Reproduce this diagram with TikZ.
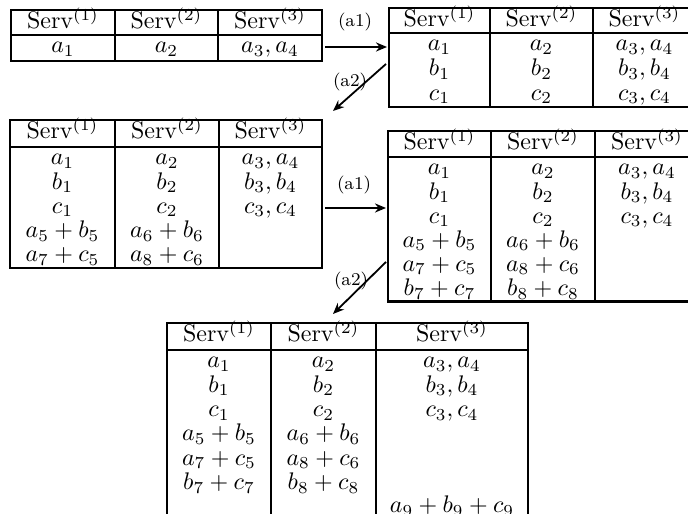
\documentclass[tikz,border=0pt]{standalone}
\usetikzlibrary{arrows.meta}
\begin{document}
\begin{tikzpicture}[x=0.4167pt,y=-0.4167pt,
  rule/.style={line width=1.05pt},
  cell/.style={anchor=base,inner sep=0pt},
  lab/.style={font=\fontsize{7.5}{9}\selectfont,inner sep=0pt},
  arr/.style={-{Stealth[length=4.6pt,width=3.8pt]},line width=0.75pt}]
\useasboundingbox (0,0) rectangle (688,514);
\clip (0,0) rectangle (688,514);

% ---------- Table 1 ----------
\coordinate (t1nw) at (11,10); \coordinate (t1se) at (322,61);
\draw[rule] (t1nw) rectangle (t1se);
\draw[rule] (11,35) -- (322,35);
\draw[rule] (115,10) -- (115,61);
\draw[rule] (218,10) -- (218,61);
\node[cell] (t1h1) at (63,29) {Serv$^{(1)}$};
\node[cell] (t1h2) at (166.5,29) {Serv$^{(2)}$};
\node[cell] (t1h3) at (270,29) {Serv$^{(3)}$};
\node[cell] (t1a) at (63,53) {$a_1$};
\node[cell] (t1b) at (166.5,53) {$a_2$};
\node[cell] (t1c) at (270,53) {$a_3,a_4$};

% ---------- Table 2 ----------
\coordinate (t2nw) at (389,8); \coordinate (t2se) at (696,107);
\draw[rule] (t2nw) rectangle (t2se);
\draw[rule] (389,33) -- (696,33);
\draw[rule] (490,8) -- (490,107);
\draw[rule] (593,8) -- (593,107);
\node[cell] (t2h1) at (439.5,27) {Serv$^{(1)}$};
\node[cell] (t2h2) at (541.5,27) {Serv$^{(2)}$};
\node[cell] (t2h3) at (644.5,27) {Serv$^{(3)}$};
\node[cell] (t2r1a) at (439.5,51) {$a_1$};
\node[cell] (t2r1b) at (541.5,51) {$a_2$};
\node[cell] (t2r1c) at (644.5,51) {$a_3,a_4$};
\node[cell] (t2r2a) at (439.5,75.7) {$b_1$};
\node[cell] (t2r2b) at (541.5,75.7) {$b_2$};
\node[cell] (t2r2c) at (644.5,75.7) {$b_3,b_4$};
\node[cell] (t2r3a) at (439.5,100.3) {$c_1$};
\node[cell] (t2r3b) at (541.5,100.3) {$c_2$};
\node[cell] (t2r3c) at (644.5,100.3) {$c_3,c_4$};

% ---------- Table 3 ----------
\coordinate (t3nw) at (10,120); \coordinate (t3se) at (322,268);
\draw[rule] (t3nw) rectangle (t3se);
\draw[rule] (10,147) -- (322,147);
\draw[rule] (115,120) -- (115,268);
\draw[rule] (219,120) -- (219,268);
\node[cell] (t3h1) at (62.5,139) {Serv$^{(1)}$};
\node[cell] (t3h2) at (167,139) {Serv$^{(2)}$};
\node[cell] (t3h3) at (270.5,139) {Serv$^{(3)}$};
\node[cell] (t3r1a) at (62.5,165) {$a_1$};
\node[cell] (t3r1b) at (167,165) {$a_2$};
\node[cell] (t3r1c) at (270.5,165) {$a_3,a_4$};
\node[cell] (t3r2a) at (62.5,189.2) {$b_1$};
\node[cell] (t3r2b) at (167,189.2) {$b_2$};
\node[cell] (t3r2c) at (270.5,189.2) {$b_3,b_4$};
\node[cell] (t3r3a) at (62.5,213.4) {$c_1$};
\node[cell] (t3r3b) at (167,213.4) {$c_2$};
\node[cell] (t3r3c) at (270.5,213.4) {$c_3,c_4$};
\node[cell] (t3r4a) at (62.5,237.6) {$a_5+b_5$};
\node[cell] (t3r4b) at (167,237.6) {$a_6+b_6$};
\node[cell] (t3r5a) at (62.5,261.8) {$a_7+c_5$};
\node[cell] (t3r5b) at (167,261.8) {$a_8+c_6$};

% ---------- Table 4 ----------
\coordinate (t4nw) at (388,131); \coordinate (t4se) at (699,301.6);
\draw[rule] (t4nw) rectangle (t4se);
\draw[rule] (388,157) -- (699,157);
\draw[rule] (491,131) -- (491,301.6);
\draw[rule] (595,131) -- (595,301.6);
\node[cell] (t4h1) at (439.5,150) {Serv$^{(1)}$};
\node[cell] (t4h2) at (543,150) {Serv$^{(2)}$};
\node[cell] (t4h3) at (647,150) {Serv$^{(3)}$};
\node[cell] (t4r1a) at (439.5,175) {$a_1$};
\node[cell] (t4r1b) at (543,175) {$a_2$};
\node[cell] (t4r1c) at (647,175) {$a_3,a_4$};
\node[cell] (t4r2a) at (439.5,199.1) {$b_1$};
\node[cell] (t4r2b) at (543,199.1) {$b_2$};
\node[cell] (t4r2c) at (647,199.1) {$b_3,b_4$};
\node[cell] (t4r3a) at (439.5,223.2) {$c_1$};
\node[cell] (t4r3b) at (543,223.2) {$c_2$};
\node[cell] (t4r3c) at (647,223.2) {$c_3,c_4$};
\node[cell] (t4r4a) at (439.5,247.3) {$a_5+b_5$};
\node[cell] (t4r4b) at (543,247.3) {$a_6+b_6$};
\node[cell] (t4r5a) at (439.5,271.4) {$a_7+c_5$};
\node[cell] (t4r5b) at (543,271.4) {$a_8+c_6$};
\node[cell] (t4r6a) at (439.5,295.5) {$b_7+c_7$};
\node[cell] (t4r6b) at (543,295.5) {$b_8+c_8$};

% ---------- Table 5 ----------
\coordinate (t5nw) at (167,323); \coordinate (t5se) at (528,530);
\draw[rule] (t5nw) rectangle (t5se);
\draw[rule] (167,350) -- (528,350);
\draw[rule] (271,323) -- (271,530);
\draw[rule] (376,323) -- (376,530);
\node[cell] (t5h1) at (219,342) {Serv$^{(1)}$};
\node[cell] (t5h2) at (323.5,342) {Serv$^{(2)}$};
\node[cell] (t5h3) at (452,342) {Serv$^{(3)}$};
\node[cell] (t5r1a) at (219,368) {$a_1$};
\node[cell] (t5r1b) at (323.5,368) {$a_2$};
\node[cell] (t5r1c) at (452,368) {$a_3,a_4$};
\node[cell] (t5r2a) at (219,392.3) {$b_1$};
\node[cell] (t5r2b) at (323.5,392.3) {$b_2$};
\node[cell] (t5r2c) at (452,392.3) {$b_3,b_4$};
\node[cell] (t5r3a) at (219,416.6) {$c_1$};
\node[cell] (t5r3b) at (323.5,416.6) {$c_2$};
\node[cell] (t5r3c) at (452,416.6) {$c_3,c_4$};
\node[cell] (t5r4a) at (219,440.9) {$a_5+b_5$};
\node[cell] (t5r4b) at (323.5,440.9) {$a_6+b_6$};
\node[cell] (t5r5a) at (219,465.2) {$a_7+c_5$};
\node[cell] (t5r5b) at (323.5,465.2) {$a_8+c_6$};
\node[cell] (t5r6a) at (219,489.5) {$b_7+c_7$};
\node[cell] (t5r6b) at (323.5,489.5) {$b_8+c_8$};
\node[cell] (t5r7c) at (452,513) {$a_9+b_9+c_9$};

% ---------- Arrows ----------
\coordinate (p1s) at (325,47);  \coordinate (p1e) at (387,47);
\draw[arr] (p1s) -- (p1e);
\node[lab] (l1) at (355,22) {(a1)};
\coordinate (p2s) at (386,64);  \coordinate (p2e) at (333,111);
\draw[arr] (p2s) -- (p2e);
\node[lab] (l2) at (350,82) {(a2)};
\coordinate (p3s) at (325,208); \coordinate (p3e) at (386,208);
\draw[arr] (p3s) -- (p3e);
\node[lab] (l3) at (354,185) {(a1)};
\coordinate (p4s) at (386,262); \coordinate (p4e) at (333,314);
\draw[arr] (p4s) -- (p4e);
\node[lab] (l4) at (351,281) {(a2)};
\end{tikzpicture}
\end{document}
